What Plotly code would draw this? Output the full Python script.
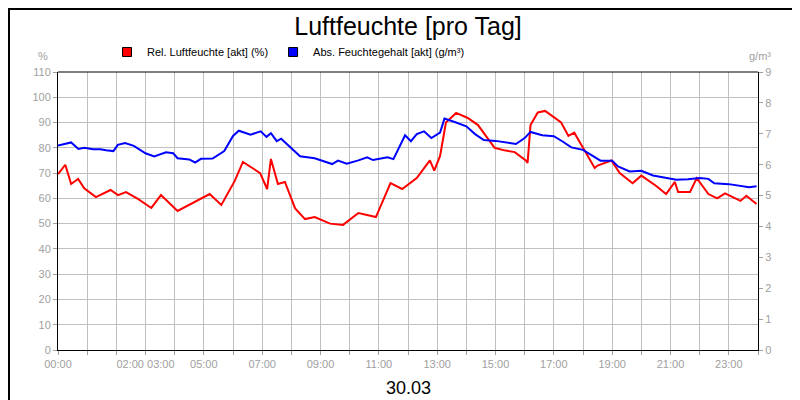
import plotly.graph_objects as go

# Rel. Luftfeuchte (%) -- hour of day, value
rel_hours = [0, 0.25, 0.45, 0.69, 0.9, 1.3, 1.8, 2.06, 2.33, 2.74, 3.2, 3.53, 4.1, 4.56, 5.2, 5.6,
             6.06, 6.34, 6.93, 7.17, 7.3, 7.54, 7.78, 8.13, 8.47, 8.8, 9.33, 9.77, 10.3, 10.9, 11.4,
             11.8, 12.3, 12.75, 12.9, 13.1, 13.3, 13.65, 14.05, 14.4, 14.6, 14.97, 15.3, 15.66,
             16.04, 16.1, 16.2, 16.45, 16.7, 17.25, 17.5, 17.7, 18.0, 18.4, 18.5, 18.97, 19.26,
             19.7, 20.0, 20.5, 20.85, 21.15, 21.26, 21.67, 21.9, 22.3, 22.6, 22.87, 23.4, 23.6, 23.95]
rel_values = [69.6, 73.3, 65.7, 67.7, 64, 60.5, 63.3, 61.3, 62.5, 59.8, 56.2, 61.3, 55, 57.8, 61.7, 57.4,
              66.9, 74.4, 70, 63.7, 75.6, 65.7, 66.5, 56, 51.8, 52.6, 50, 49.5, 54.2, 52.6, 66,
              63.7, 68, 75, 71, 76.8, 90, 93.8, 91.8, 89, 86, 80, 79, 78.3,
              75, 74, 89, 94, 94.6, 90, 84.7, 86, 80, 72, 73, 75, 70,
              66, 69, 65, 61.7, 66.5, 62.5, 62.5, 68, 61.7, 60, 62, 59, 61, 57.8]

# Abs. Feuchtegehalt (g/m³)
abs_hours = [0, 0.45, 0.7, 0.9, 1.2, 1.45, 1.65, 1.9, 2.05, 2.3, 2.6, 3.0, 3.3, 3.7, 3.95, 4.1, 4.5,
             4.7, 4.9, 5.3, 5.7, 6.0, 6.2, 6.6, 6.95, 7.15, 7.3, 7.5, 7.65, 8.0, 8.3, 8.8, 9.1, 9.4,
             9.6, 9.9, 10.3, 10.6, 10.8, 11.3, 11.5, 11.7, 11.9, 12.1, 12.3, 12.55, 12.8, 13.1,
             13.25, 13.6, 14.0, 14.3, 14.6, 15.0, 15.4, 15.7, 16.0, 16.2, 16.6, 17.0, 17.3, 17.6,
             18.0, 18.3, 18.6, 19.0, 19.2, 19.6, 20.0, 20.4, 20.8, 21.2, 21.6, 22.0, 22.3, 22.5,
             23.0, 23.3, 23.7, 23.95]
abs_values = [6.62, 6.72, 6.51, 6.55, 6.5, 6.5, 6.47, 6.44, 6.64, 6.7, 6.61, 6.37, 6.27, 6.4, 6.37, 6.21, 6.17,
              6.07, 6.19, 6.2, 6.44, 6.93, 7.1, 6.97, 7.08, 6.9, 7.02, 6.76, 6.84, 6.54, 6.27, 6.21, 6.12, 6.02,
              6.13, 6.03, 6.14, 6.24, 6.15, 6.24, 6.18, 6.54, 6.95, 6.76, 6.99, 7.08, 6.86, 7.04,
              7.49, 7.38, 7.24, 6.99, 6.8, 6.77, 6.7, 6.67, 6.86, 7.06, 6.95, 6.92, 6.75, 6.56,
              6.48, 6.3, 6.13, 6.13, 5.94, 5.78, 5.8, 5.65, 5.57, 5.51, 5.53, 5.57, 5.54, 5.4,
              5.37, 5.33, 5.27, 5.3]

tick_hours = list(range(25))
tick_labels = {0: "00:00", 3: "02:00 03:00", 5: "05:00", 7: "07:00", 9: "09:00", 11: "11:00",
               13: "13:00", 15: "15:00", 17: "17:00", 19: "19:00", 21: "21:00", 23: "23:00"}

GRID = "#c0c0c0"
TICKFONT = dict(family="Arial, Liberation Sans", size=11, color="#a0a0a0")

fig = go.Figure()
fig.add_trace(go.Scatter(x=rel_hours, y=rel_values, mode="lines", line=dict(color="#ff0000", width=2),
                         showlegend=False))
fig.add_trace(go.Scatter(x=abs_hours, y=abs_values, mode="lines", line=dict(color="#0000ff", width=2),
                         yaxis="y2", showlegend=False))

# legend entries as square markers
for name, color in [("Rel. Luftfeuchte [akt] (%)", "#ff0000"), ("Abs. Feuchtegehalt [akt] (g/m³)", "#0000ff")]:
    fig.add_trace(go.Scatter(x=[None], y=[None], mode="markers", name=name,
                             marker=dict(symbol="square", size=9, color=color, line=dict(color="black", width=1))))

fig.update_layout(
    width=800, height=400,
    margin=dict(l=50, r=50, t=64, b=58),
    paper_bgcolor="white", plot_bgcolor="white",
    font=dict(family="Arial, Liberation Sans", color="black"),
    title=dict(text="Luftfeuchte [pro Tag]", x=0.5, xanchor="center", y=0.955, yanchor="middle",
               font=dict(size=25, color="black")),
    legend=dict(orientation="h", x=0.07, y=1 + 20 / 278, xanchor="left", yanchor="middle",
                font=dict(size=11, color="black"), itemwidth=30, tracegroupgap=0,
                bgcolor="rgba(0,0,0,0)"),
    xaxis=dict(range=[0, 24], tickvals=tick_hours, ticktext=[tick_labels.get(h, "") for h in tick_hours],
               tickangle=0, showgrid=True, gridcolor=GRID, gridwidth=1, zeroline=False, tickfont=TICKFONT,
               ticks="outside", ticklen=4, tickcolor="#a0a0a0", showline=True, linecolor="black",
               mirror=False),
    yaxis=dict(range=[0, 110], dtick=10, showgrid=True, gridcolor=GRID, zeroline=False, tickfont=TICKFONT,
               ticks="outside", ticklen=4, tickcolor="#a0a0a0", showline=True, linecolor="black"),
    yaxis2=dict(range=[0, 9], dtick=1, overlaying="y", side="right", showgrid=False, zeroline=False,
                tickfont=TICKFONT, ticks="outside", ticklen=4, tickcolor="#a0a0a0",
                showline=True, linecolor="black"),
)

fig.add_shape(type="line", xref="paper", yref="paper", x0=0, x1=1, y0=1, y1=1,
              line=dict(color="black", width=1))
fig.add_shape(type="rect", xref="paper", yref="paper", x0=-49 / 700, x1=749 / 700, y0=-57 / 278,
              y1=341 / 278, line=dict(color="black", width=2))
fig.add_annotation(text="%", xref="paper", yref="paper", x=-8 / 700, y=1 + 16 / 278, showarrow=False,
                   xanchor="right", yanchor="middle", font=dict(size=11, color="#a0a0a0"))
fig.add_annotation(text="g/m³", xref="paper", yref="paper", x=1 + 15 / 700, y=1 + 16 / 278, showarrow=False,
                   xanchor="right", yanchor="middle", font=dict(size=11, color="#a0a0a0"))
fig.add_annotation(text="30.03", xref="paper", yref="paper", x=0.5, y=-38 / 278, showarrow=False,
                   yanchor="middle", font=dict(size=18, color="black"))

fig.write_html("out.html")
